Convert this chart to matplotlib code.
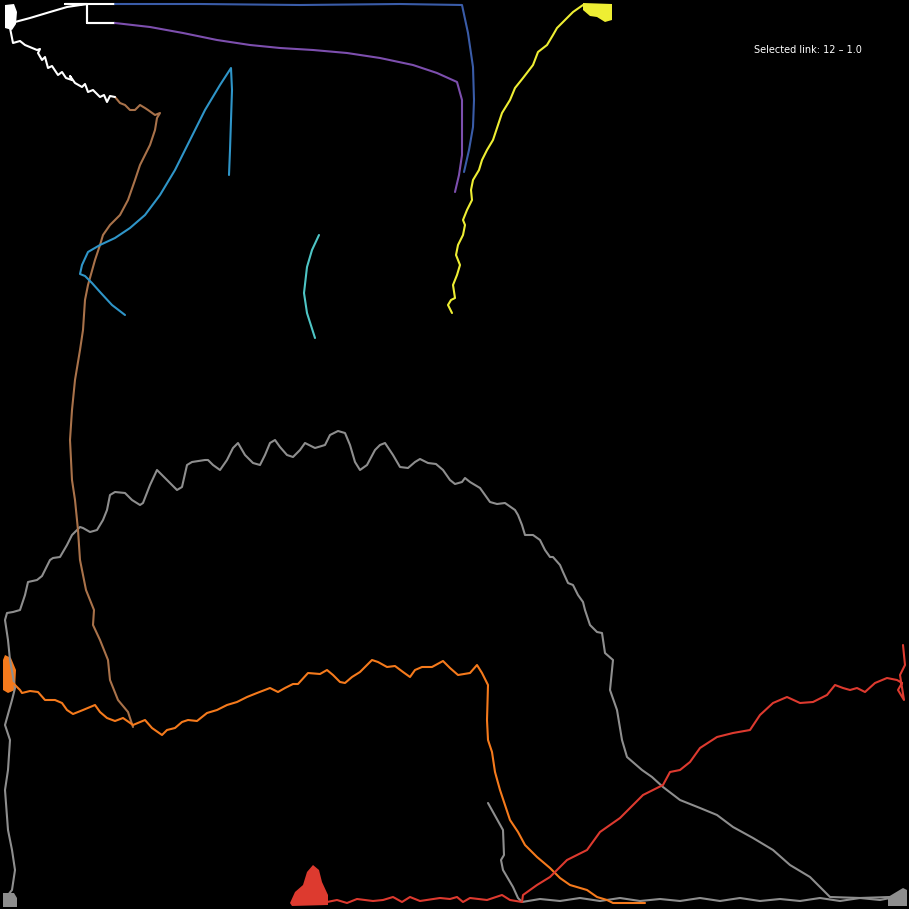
import numpy as np
import matplotlib
matplotlib.use("Agg")
import matplotlib.pyplot as plt

# trajectories, in screen units (x right, y down)
white_path = [(15, 22), (30, 18), (50, 12), (67, 7), (87, 4), (87, 23), (115, 23), (87, 23),
              (87, 4), (65, 4), (115, 4)]
white_tail = [(10, 28), (12, 38), (13, 43), (20, 41), (25, 45), (37, 50), (40, 49), (38, 53),
              (42, 60), (45, 57), (48, 68), (52, 66), (58, 75), (62, 72), (66, 78), (72, 80),
              (70, 76), (75, 83), (82, 87), (85, 84), (88, 92), (93, 90), (100, 97), (104, 95),
              (107, 102), (110, 96), (115, 97)]
brown_path = [(115, 97), (120, 103), (125, 105), (130, 110), (135, 110), (140, 105), (145, 108),
              (148, 110), (155, 115), (160, 113), (157, 118), (155, 130), (150, 145), (145, 155),
              (140, 165), (135, 180), (128, 200), (120, 215), (110, 225), (103, 235), (100, 245),
              (95, 260), (88, 285), (85, 300), (83, 330), (80, 350), (75, 380), (72, 410),
              (70, 440), (72, 480), (75, 500), (78, 530), (80, 560), (86, 590), (94, 610),
              (93, 625), (100, 640), (108, 660), (110, 680), (118, 700), (128, 712), (133, 727)]
sky_path = [(125, 315), (112, 305), (100, 292), (92, 283), (85, 276), (80, 274), (82, 265),
            (88, 252), (100, 245), (115, 238), (130, 228), (145, 215), (160, 195), (175, 170),
            (190, 140), (205, 110), (220, 85), (231, 68), (232, 90), (231, 120), (230, 150),
            (229, 175)]
teal_path = [(319, 235), (312, 250), (307, 267), (304, 293), (307, 313), (315, 338)]
blue_path = [(115, 4), (200, 4), (300, 5), (400, 4), (462, 5), (468, 33), (473, 67), (474, 100),
             (473, 127), (469, 150), (464, 172)]
purple_path = [(115, 23), (150, 27), (183, 33), (217, 40), (250, 45), (280, 48), (313, 50),
               (347, 53), (380, 58), (413, 65), (437, 73), (457, 82), (462, 100), (462, 130),
               (462, 155), (459, 175), (455, 192)]
yellow_path = [(452, 313), (448, 305), (451, 300), (455, 298), (453, 285), (457, 275), (460, 265),
               (456, 255), (458, 245), (463, 235), (465, 225), (463, 220), (467, 210), (472, 200),
               (471, 190), (473, 180), (479, 170), (482, 160), (487, 150), (493, 140), (497, 128),
               (502, 113), (510, 100), (515, 88), (523, 78), (533, 65), (538, 52), (547, 45),
               (553, 35), (557, 28), (567, 18), (573, 12), (583, 5)]
gray_arc = [(8, 895), (12, 890), (15, 870), (12, 850), (8, 830), (5, 790), (8, 770), (10, 740),
            (5, 725), (12, 700), (15, 688), (10, 660), (8, 640), (5, 620), (7, 613), (13, 612),
            (20, 610), (25, 595), (28, 582), (37, 580), (42, 576), (50, 560), (53, 558), (60, 557),
            (67, 545), (72, 535), (80, 527), (83, 528), (90, 532), (97, 530), (103, 520),
            (107, 510), (110, 495), (115, 492), (125, 493), (132, 500), (140, 505), (143, 503),
            (150, 485), (157, 470), (167, 480), (177, 490), (182, 487), (187, 465), (192, 462),
            (205, 460), (208, 460), (213, 465), (220, 470), (227, 460), (233, 448), (238, 443),
            (245, 455), (253, 463), (260, 465), (265, 455), (270, 443), (275, 440), (280, 447),
            (287, 455), (293, 457), (300, 450), (305, 443), (315, 448), (325, 445), (330, 435),
            (338, 431), (345, 433), (350, 445), (355, 462), (360, 470), (367, 465), (375, 450),
            (380, 445), (385, 443), (393, 455), (400, 467), (408, 468), (415, 462), (420, 459),
            (428, 463), (436, 464), (443, 470), (450, 480), (455, 484), (462, 482), (465, 478),
            (470, 482), (480, 488), (485, 495), (490, 502), (497, 504), (505, 503), (515, 510),
            (518, 515), (522, 525), (525, 535), (533, 535), (540, 540), (545, 550), (550, 557),
            (553, 557), (560, 565), (563, 572), (568, 583), (573, 585), (578, 595), (583, 602),
            (585, 610), (590, 625), (597, 632), (602, 633), (605, 653), (613, 660), (610, 690),
            (617, 710), (622, 740), (627, 757), (642, 770), (652, 777), (663, 787), (680, 800),
            (700, 808), (717, 815), (733, 827), (753, 838), (773, 850), (790, 865), (810, 877),
            (820, 887), (830, 897), (860, 898), (890, 897)]
gray_short = [(488, 803), (503, 830), (504, 855), (501, 860), (503, 870), (513, 887), (518, 898),
              (522, 902), (540, 899), (560, 901), (580, 898), (600, 901), (620, 898), (640, 901),
              (660, 899), (680, 901), (700, 898), (720, 901), (740, 898), (760, 901), (780, 899),
              (800, 901), (820, 898), (840, 901), (860, 898), (880, 900), (895, 897)]
orange_path = [(13, 683), (20, 690), (22, 693), (30, 691), (38, 692), (45, 700), (55, 700),
               (62, 703), (67, 710), (73, 714), (83, 710), (95, 705), (100, 712), (107, 718),
               (115, 721), (123, 718), (133, 725), (145, 720), (152, 728), (162, 735), (167, 730),
               (175, 728), (182, 722), (188, 720), (197, 721), (207, 713), (217, 710), (227, 705),
               (237, 702), (247, 697), (257, 693), (270, 688), (278, 692), (285, 688), (293, 684),
               (298, 684), (308, 673), (320, 674), (327, 670), (333, 675), (340, 682), (345, 683),
               (352, 677), (360, 672), (372, 660), (378, 662), (387, 667), (395, 666), (403, 672),
               (410, 677), (415, 670), (422, 667), (432, 667), (443, 661), (450, 668), (458, 675),
               (470, 673), (477, 665), (482, 673), (488, 685), (487, 720), (488, 740), (492, 752),
               (495, 772), (500, 790), (505, 805), (510, 820), (518, 832), (525, 845), (537, 857),
               (550, 868), (560, 878), (570, 885), (587, 890), (597, 897), (607, 900), (613, 903),
               (645, 903)]
red_path = [(327, 902), (337, 900), (347, 903), (357, 899), (373, 901), (383, 900), (393, 897),
            (402, 902), (410, 897), (420, 901), (440, 898), (450, 899), (457, 897), (463, 902),
            (470, 898), (487, 900), (502, 895), (510, 900), (522, 902), (523, 895), (537, 885),
            (550, 877), (567, 860), (587, 850), (600, 832), (620, 818), (643, 795), (653, 790),
            (663, 785), (670, 772), (680, 770), (690, 762), (700, 748), (717, 737), (733, 733),
            (750, 730), (760, 715), (773, 703), (787, 697), (800, 703), (813, 702), (827, 695),
            (835, 685), (843, 688), (850, 690), (857, 688), (865, 692), (875, 683), (887, 678),
            (897, 680), (902, 683), (898, 690), (904, 700), (900, 675), (905, 665), (903, 645)]

# clusters where a trace jitters in place
white_blob = [(5, 5), (14, 4), (17, 12), (16, 24), (12, 30), (5, 28)]
yellow_blob = [(583, 3), (612, 4), (612, 20), (605, 22), (597, 17), (590, 16), (583, 10)]
red_blob = [(290, 903), (295, 892), (303, 885), (307, 872), (313, 865), (319, 870), (322, 882),
            (328, 895), (328, 905), (292, 906)]
orange_blob = [(5, 655), (11, 658), (16, 670), (15, 690), (8, 693), (3, 690), (3, 660)]
gray_blob_left = [(3, 893), (14, 893), (17, 898), (17, 907), (3, 907)]
gray_blob_right = [(888, 897), (903, 888), (907, 890), (907, 906), (888, 906)]

link_label = "Selected link: 12 \u2013 1.0"

traces = [
    (gray_arc, "#8e8e8e"),
    (gray_short, "#8e8e8e"),
    (brown_path, "#a9724a"),
    (white_path, "#ffffff"),
    (white_tail, "#ffffff"),
    (sky_path, "#2f95c8"),
    (teal_path, "#4ec5c5"),
    (blue_path, "#3a5ca8"),
    (purple_path, "#7d4fae"),
    (yellow_path, "#eeee33"),
    (orange_path, "#f57a1c"),
    (red_path, "#dd3a2f"),
]
blobs = [
    (white_blob, "#ffffff"),
    (yellow_blob, "#eeee33"),
    (red_blob, "#dd3a2f"),
    (orange_blob, "#f57a1c"),
    (gray_blob_left, "#8e8e8e"),
    (gray_blob_right, "#8e8e8e"),
]

fig = plt.figure(figsize=(9.09, 9.09), dpi=100, facecolor="black")
ax = fig.add_axes([0, 0, 1, 1])
ax.set_facecolor("black")

for pts, color in traces:
    xy = np.array(pts)
    ax.plot(xy[:, 0], xy[:, 1], color=color, lw=1.5, solid_joinstyle="round",
            solid_capstyle="round")
for pts, color in blobs:
    xy = np.array(pts)
    ax.fill(xy[:, 0], xy[:, 1], color=color, lw=0)

ax.text(808, 50, link_label, color="white", fontsize=7, ha="center", va="center")

ax.set_xlim(0, 909)
ax.set_ylim(909, 0)
ax.axis("off")

fig.savefig("out.png", dpi=100, facecolor="black")
